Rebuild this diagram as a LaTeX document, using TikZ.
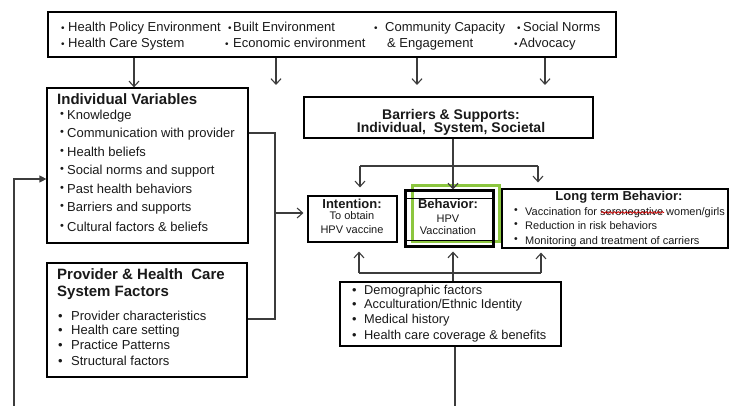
\documentclass[tikz,border=0pt]{standalone}
\usepackage{fontspec}
\setmainfont{Liberation Sans}
\usetikzlibrary{arrows.meta,decorations.pathmorphing}
\definecolor{vgreen}{RGB}{140,198,63}
\definecolor{lcol}{RGB}{60,60,60}
\definecolor{tcol}{RGB}{25,25,25}
\newcommand{\tb}[2]{\makebox[#1][l]{\fontsize{10}{10}\selectfont\raisebox{0.5pt}{•}}#2}
\newcommand{\rb}[2]{\makebox[#1][l]{\raisebox{2.5pt}{\fontsize{11}{11}\selectfont •}}#2}
\newcommand{\lb}[2]{\makebox[#1][l]{\raisebox{2pt}{\fontsize{10.5}{10}\selectfont •}}#2}
\newcommand{\nb}[2]{\makebox[#1][l]{•}#2}
\begin{document}
\begin{tikzpicture}[x=1pt,y=-1pt,
  box/.style={draw=black, line width=1.2pt, inner sep=0pt, rectangle},
  lbl/.style={inner sep=0pt, anchor=base west, text=tcol},
  ctr/.style={inner sep=0pt, anchor=base, text=tcol},
  conn/.style={draw=lcol, line width=1.2pt},
  arr/.style={conn, -{Straight Barb[length=5.5pt,width=10pt,line width=1.1pt]}},
  farr/.style={conn, -{Triangle[length=7pt,width=7pt]}},
  fT/.style={font=\fontsize{13}{15}\selectfont},
  fI/.style={font=\fontsize{13}{15}\selectfont},
  fH/.style={font=\bfseries\fontsize{15}{17}\selectfont},
  fB/.style={font=\bfseries\fontsize{14}{16}\selectfont},
  fS/.style={font=\bfseries\fontsize{13}{15}\selectfont},
  fs/.style={font=\fontsize{11}{13}\selectfont},
  fD/.style={font=\fontsize{12.8}{15}\selectfont},
]
\useasboundingbox (0,0) rectangle (729,406);

% ---------- boxes ----------
\node[box, minimum width=568pt, minimum height=45pt] (top) at (332,34.5) {};
\node[box, minimum width=201pt, minimum height=155pt] (ind) at (147.5,165.5) {};
\node[box, minimum width=200pt, minimum height=114pt] (prov) at (147,320) {};
\node[box, minimum width=289pt, minimum height=41pt] (barr) at (448.5,117.5) {};
\node[box, minimum width=89pt, minimum height=46pt] (int) at (352.5,219) {};
\node[draw=vgreen, line width=3pt, inner sep=0pt, minimum width=87pt, minimum height=56pt] (behg) at (455.5,214) {};
\node[draw=black, line width=0.9pt, inner sep=0pt, minimum width=88pt, minimum height=42pt] (behi) at (449,219) {};
\node[draw=black, line width=3pt, inner sep=0pt, minimum width=88pt, minimum height=56pt] (beh) at (449,219) {};
\node[box, minimum width=226pt, minimum height=59pt] (long) at (615,218.5) {};
\node[box, minimum width=221pt, minimum height=64pt] (demo) at (450.5,314) {};

% ---------- top box text ----------
\node[lbl,fT] (t1) at (61,32) {\tb{7pt}{Health Policy Environment}};
\node[lbl,fT] (t2) at (228,32) {\tb{5pt}{Built Environment}};
\node[lbl,fT] (t3) at (374,32) {\tb{11pt}{Community Capacity}};
\node[lbl,fT] (t4) at (517,32) {\tb{6pt}{Social Norms}};
\node[lbl,fT] (t5) at (61,48) {\tb{7pt}{Health Care System}};
\node[lbl,fT] (t6) at (225,48) {\tb{8pt}{Economic environment}};
\node[lbl,fT] (t7) at (387,48) {\& Engagement};
\node[lbl,fT] (t8) at (514,48) {\tb{5pt}{Advocacy}};

% ---------- individual variables ----------
\node[lbl,fH] (ivt) at (57,105) {Individual Variables};
\node[lbl,fI] (iv1) at (60,120) {\rb{7pt}{Knowledge}};
\node[lbl,fI] (iv2) at (60,138) {\rb{7pt}{Communication with provider}};
\node[lbl,fI] (iv3) at (60,157) {\rb{7pt}{Health beliefs}};
\node[lbl,fI] (iv4) at (60,175) {\rb{7pt}{Social norms and support}};
\node[lbl,fI] (iv5) at (60,194) {\rb{7pt}{Past health behaviors}};
\node[lbl,fI] (iv6) at (60,212) {\rb{7pt}{Barriers and supports}};
\node[lbl,fI] (iv7) at (60,232) {\rb{7pt}{Cultural factors \& beliefs}};

% ---------- provider ----------
\node[lbl,fH] (pvt1) at (57,280) {Provider \& Health\ \ Care};
\node[lbl,fH] (pvt2) at (57,297) {System Factors};
\node[lbl,fI] (pv1) at (58,320.5) {\nb{13pt}{Provider characteristics}};
\node[lbl,fI] (pv2) at (58,334.5) {\nb{13pt}{Health care setting}};
\node[lbl,fI] (pv3) at (58,349.5) {\nb{13pt}{Practice Patterns}};
\node[lbl,fI] (pv4) at (58,365.5) {\nb{13pt}{Structural factors}};

% ---------- barriers ----------
\node[ctr,fB] (bt1) at (451,119.5) {Barriers \& Supports:};
\node[ctr,fB] (bt2) at (451,133) {Individual,\ \ System, Societal};

% ---------- intention ----------
\node[ctr,fS] (it1) at (352,208.5) {Intention:};
\node[ctr,fs] (it2) at (352,219.5) {To obtain};
\node[ctr,fs] (it3) at (352,233.5) {HPV vaccine};

% ---------- behavior ----------
\node[ctr,fS] (bh1) at (448,209) {Behavior:};
\node[ctr,fs] (bh2) at (448,223) {HPV};
\node[ctr,fs] (bh3) at (448,234.5) {Vaccination};

% ---------- long term ----------
\node[ctr,fS] (lt0) at (619,201) {Long term Behavior:};
\node[lbl,fs] (lt1) at (514,216) {\lb{11pt}{Vaccination for seronegative women/girls}};
\node[lbl,fs] (lt2) at (514,229.5) {\lb{11pt}{Reduction in risk behaviors}};
\node[lbl,fs] (lt3) at (514,244.5) {\lb{11pt}{Monitoring and treatment of carriers}};
\coordinate (sq1) at (601,212.5);
\coordinate (sq2) at (664,212.5);
\draw[red!80!black, line width=0.8pt, decorate, decoration={snake, amplitude=0.9pt, segment length=4pt}] (sq1) -- (sq2);

% ---------- demographics ----------
\node[lbl,fD] (dm1) at (352,294.5) {\nb{12pt}{Demographic factors}};
\node[lbl,fD] (dm2) at (352,309) {\nb{12pt}{Acculturation/Ethnic Identity}};
\node[lbl,fD] (dm3) at (352,324) {\nb{12pt}{Medical history}};
\node[lbl,fD] (dm4) at (352,339.5) {\nb{12pt}{Health care coverage \& benefits}};

% ---------- connectors ----------
\coordinate (a1) at (134,85);
\coordinate (a2) at (276,85);
\coordinate (a3) at (417,85);
\coordinate (a4) at (545,85);
\draw[arr] (top.south -| a1) -- (ind.north -| a1);
\draw[arr] (top.south -| a2) -- (a2);
\draw[arr] (top.south -| a3) -- (a3);
\draw[arr] (top.south -| a4) -- (a4);

\coordinate (j1) at (275,133);
\coordinate (j2) at (275,319);
\coordinate (j3) at (275,213);
\draw[conn] (ind.east |- j1) -- (j1) -- (j2) -- (prov.east |- j2);
\draw[arr, shorten >=4pt] (j3) -- (int.west |- j3);

\coordinate (f0) at (14,406);
\coordinate (f1) at (14,179);
\draw[farr] (f0) -- (f1) -- (ind.west |- f1);

\coordinate (b1) at (453,166);
\coordinate (b2) at (360,166);
\coordinate (b3) at (538,166);
\draw[arr] (barr.south -| b1) -- (beh.north -| b1);
\draw[conn] (b2) -- (b3);
\draw[arr, shorten >=8pt] (b2) -- (int.north -| b2);
\draw[arr, shorten >=6pt] (b3) -- (long.north -| b3);

\coordinate (d1) at (453,273);
\coordinate (d2) at (359,273);
\coordinate (d3) at (541,273);
\coordinate (d4) at (455,406);
\draw[conn] (d2) -- (d3);
\draw[arr, shorten >=9pt] (d2) -- (int.south -| d2);
\draw[arr, shorten >=4pt] (d3) -- (long.south -| d3);
\draw[arr, shorten >=3pt] (demo.north -| d1) -- (beh.south -| d1);
\draw[conn] (demo.south -| d4) -- (d4);
\end{tikzpicture}
\end{document}
